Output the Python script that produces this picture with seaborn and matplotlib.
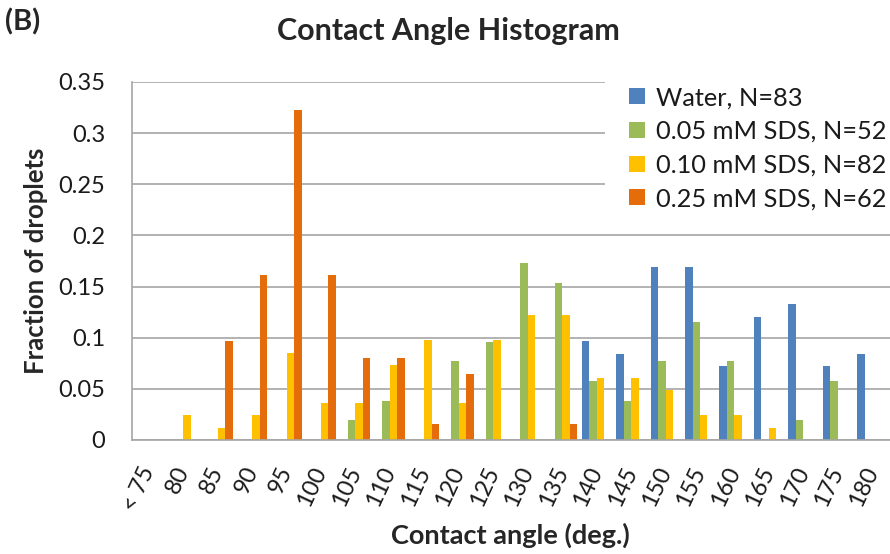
import numpy as np
import pandas as pd
import matplotlib
matplotlib.use("Agg")
import matplotlib.pyplot as plt
import matplotlib.patches as mpatches
import seaborn as sns

# ---------------- data ----------------
angle_labels = ["< 75", "80", "85", "90", "95", "100", "105", "110", "115", "120",
                "125", "130", "135", "140", "145", "150", "155", "160", "165",
                "170", "175", "180"]
series_names = ["Water, N=83", "0.05 mM SDS, N=52", "0.10 mM SDS, N=82", "0.25 mM SDS, N=62"]

water = [0, 0, 0, 0, 0, 0, 0, 0, 0, 0, 0, 0, 0,
         0.0964, 0.0843, 0.1687, 0.1687, 0.0723, 0.1205, 0.1325, 0.0723, 0.0843]
sds_005 = [0, 0, 0, 0, 0, 0, 0.0192, 0.0385, 0, 0.0769, 0.0962, 0.1731, 0.1538,
           0.0577, 0.0385, 0.0769, 0.1154, 0.0769, 0, 0.0192, 0.0577, 0]
sds_010 = [0, 0.0244, 0.0122, 0.0244, 0.0854, 0.0366, 0.0366, 0.0732, 0.0976, 0.0366,
           0.0976, 0.1220, 0.1220, 0.0610, 0.0610, 0.0488, 0.0244, 0.0244, 0.0122, 0, 0, 0]
sds_025 = [0, 0, 0.0968, 0.1613, 0.3226, 0.1613, 0.0806, 0.0806, 0.0161, 0.0645,
           0, 0, 0.0161, 0, 0, 0, 0, 0, 0, 0, 0, 0]

y_ticks = [0, 0.05, 0.1, 0.15, 0.2, 0.25, 0.3, 0.35]
y_tick_labels = ["0", "0.05", "0.1", "0.15", "0.2", "0.25", "0.3", "0.35"]

colors = ["#4F81BD", "#9BBB59", "#FFC000", "#E46C0A"]

# ---------------- build table ----------------
frames = []
for name, vals in zip(series_names, [water, sds_005, sds_010, sds_025]):
    frames.append(pd.DataFrame({"angle": angle_labels, "fraction": vals, "series": name}))
df = pd.concat(frames, ignore_index=True)

sns.set_style("white")
plt.rcParams["font.family"] = ["Lato", "DejaVu Sans"]

W, H = 890, 554
fig = plt.figure(figsize=(W / 100, H / 100), dpi=100)
ax_left, ax_right, ax_top, ax_bottom = 131.5, 889.5, 82, 440
ax = fig.add_axes([ax_left / W, 1 - ax_bottom / H, (ax_right - ax_left) / W, (ax_bottom - ax_top) / H])

sns.barplot(data=df, x="angle", y="fraction", hue="series", order=angle_labels,
            hue_order=series_names, palette=colors, saturation=1, width=0.87,
            linewidth=0, ax=ax)

grid_c = "#A6A6A6"
txt_c = "#1a1a1a"
ax.set_xlim(-0.5, len(angle_labels) - 0.5)
ax.set_ylim(0, 0.35)
ax.set_yticks(y_ticks)
ax.set_yticklabels(y_tick_labels, fontsize=17, color=txt_c)
ax.yaxis.grid(True, color=grid_c, linewidth=1.2)
ax.set_axisbelow(True)
ax.tick_params(axis="y", length=6, width=1.2, color=grid_c, pad=13)

# category boundaries as major ticks, labels at centres via minor ticks
ax.set_xticks(np.arange(-0.5, len(angle_labels), 1.0))
ax.set_xticklabels([])
ax.set_xticks(np.arange(len(angle_labels)), minor=True)
ax.set_xticklabels(angle_labels, minor=True, rotation=65, ha="right", va="center",
                   rotation_mode="anchor", fontsize=17, color=txt_c)
ax.tick_params(axis="x", which="major", length=6, width=1.2, color=grid_c, direction="out")
ax.tick_params(axis="x", which="minor", length=0, pad=20)
ax.set_xlabel("")
ax.set_ylabel("")

for s in ["top", "right"]:
    ax.spines[s].set_visible(False)
for s in ["left", "bottom"]:
    ax.spines[s].set_color(grid_c)
    ax.spines[s].set_linewidth(1.2)

# white area behind the legend (hides gridlines, as in the reference)
ax.add_patch(mpatches.Rectangle((605 / W, 1 - 215 / H), (W - 605) / W, 145 / H,
                                transform=fig.transFigure, facecolor="white",
                                edgecolor="none", zorder=1.5, clip_on=False))

leg = ax.legend(loc="upper left", bbox_to_anchor=(614 / W, 1 - 71 / H),
                bbox_transform=fig.transFigure, frameon=False, fontsize=18.3,
                handlelength=0.6, handleheight=0.6, handletextpad=0.45,
                labelspacing=0.42, borderpad=0.6, borderaxespad=0)
leg.set_zorder(10)
for t in leg.get_texts():
    t.set_color(txt_c)

fig.text(5 / W, 1 - 22 / H, "(B)", fontsize=21, fontweight="bold", ha="left", va="center")
fig.text(448 / W, 1 - 31 / H, "Contact Angle Histogram", fontsize=22, fontweight="bold",
         ha="center", va="center")
fig.text(36 / W, 1 - 261 / H, "Fraction of droplets", fontsize=18.5, fontweight="bold",
         rotation=90, ha="center", va="center")
fig.text(510 / W, 1 - 535 / H, "Contact angle (deg.)", fontsize=19.5, fontweight="bold",
         ha="center", va="center")

fig.savefig("out.png", dpi=100, facecolor="white")
